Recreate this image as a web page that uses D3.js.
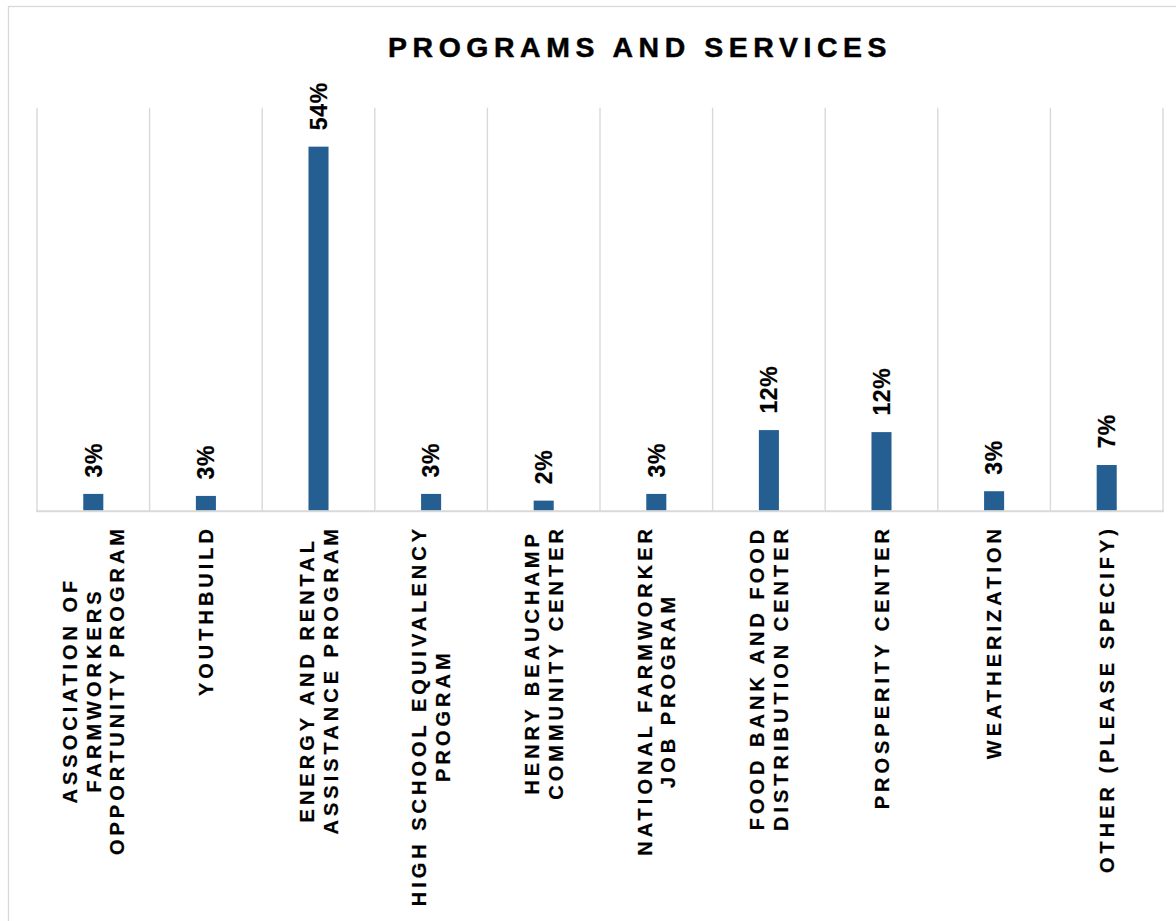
<!DOCTYPE html>
<html>
<head>
<meta charset="utf-8">
<script src="https://cdn.jsdelivr.net/npm/d3@7"></script>
<style>
  html, body { margin: 0; padding: 0; background: #fff; }
  svg { display: block; }
  text { font-family: "Liberation Sans", Arial, sans-serif; font-weight: bold; fill: #000; }
</style>
</head>
<body>
<svg id="chart" width="1176" height="921"></svg>
<script>
// ---- data ----
const title = "PROGRAMS AND SERVICES";
const categories = [
  ["ASSOCIATION OF", "FARMWORKERS", "OPPORTUNITY PROGRAM"],
  ["YOUTHBUILD"],
  ["ENERGY AND RENTAL", "ASSISTANCE PROGRAM"],
  ["HIGH SCHOOL EQUIVALENCY", "PROGRAM"],
  ["HENRY BEAUCHAMP", "COMMUNITY CENTER"],
  ["NATIONAL FARMWORKER", "JOB PROGRAM"],
  ["FOOD BANK AND FOOD", "DISTRIBUTION CENTER"],
  ["PROSPERITY CENTER"],
  ["WEATHERIZATION"],
  ["OTHER (PLEASE SPECIFY)"]
];
const values = [0.025, 0.022, 0.542, 0.025, 0.015, 0.025, 0.120, 0.117, 0.029, 0.068];
const valueLabels = ["3%", "3%", "54%", "3%", "2%", "3%", "12%", "12%", "3%", "7%"];
const yDomain = [0, 0.6];

// ---- layout ----
const svg = d3.select("#chart");
const plot = { left: 37, right: 1163, top: 107.7, bottom: 510.7 };
const ids = categories.map((c, i) => i);

const x = d3.scaleBand().domain(ids).range([plot.left, plot.right]).paddingInner(0).paddingOuter(0);
const y = d3.scaleLinear().domain(yDomain).range([plot.bottom, plot.top]);
const barW = x.bandwidth() * 0.178;

// outer border (only top/left visible)
svg.append("rect").attr("x", 8.5).attr("y", 6.5).attr("width", 1300).attr("height", 1100)
  .attr("fill", "none").attr("stroke", "#d9d9d9").attr("stroke-width", 1.3);

// title
const tls = 5.6;
svg.append("text")
  .attr("x", 388).attr("y", 56.5)
  .attr("font-size", 28.4).attr("letter-spacing", tls)
  .attr("stroke", "#000").attr("stroke-width", 0.5)
  .text(title);

// vertical category gridlines
const bounds = ids.map(i => x(i)).concat([x(ids[ids.length - 1]) + x.bandwidth()]);
svg.append("g").selectAll("line").data(bounds).join("line")
  .attr("x1", d => d).attr("x2", d => d)
  .attr("y1", plot.top).attr("y2", plot.bottom)
  .attr("stroke", "#d9d9d9").attr("stroke-width", 1.4);

// bars
svg.append("g").selectAll("rect").data(values).join("rect")
  .attr("x", (d, i) => x(i) + x.bandwidth() / 2 - barW / 2)
  .attr("width", barW)
  .attr("y", d => y(d))
  .attr("height", d => y(0) - y(d))
  .attr("fill", "#255e91");

// baseline
svg.append("line")
  .attr("x1", plot.left - 1).attr("x2", plot.right + 1)
  .attr("y1", plot.bottom + 0.5).attr("y2", plot.bottom + 0.5)
  .attr("stroke", "#d9d9d9").attr("stroke-width", 2);

// value labels (rotated)
svg.append("g").selectAll("text").data(values).join("text")
  .attr("transform", (d, i) => `translate(${x(i) + x.bandwidth() / 2},${y(d) - 16.5}) rotate(-90)`)
  .attr("text-anchor", "start")
  .attr("dy", "0.36em")
  .attr("font-size", 23)
  .attr("letter-spacing", 0.6)
  .attr("stroke", "#000").attr("stroke-width", 0.2)
  .text((d, i) => valueLabels[i]);

// category labels (rotated, multi-line, centered lines)
const cls = 4, cfs = 20, lineH = 24, labelTop = 529;
const cg = svg.append("g");
categories.forEach((lines, i) => {
  const g = cg.append("g")
    .attr("transform", `translate(${x(i) + x.bandwidth() / 2},${labelTop}) rotate(-90)`);
  const texts = lines.map((ln, j) => g.append("text")
    .attr("font-size", cfs).attr("letter-spacing", cls)
    .attr("stroke", "#000").attr("stroke-width", 0.2)
    .attr("y", (j - (lines.length - 1) / 2) * lineH)
    .attr("dy", "0.36em")
    .text(ln));
  const lens = texts.map(t => t.node().getComputedTextLength() - cls);
  const Lmax = d3.max(lens);
  texts.forEach((t, j) => t.attr("x", -Lmax / 2 - lens[j] / 2));
});
</script>
</body>
</html>
